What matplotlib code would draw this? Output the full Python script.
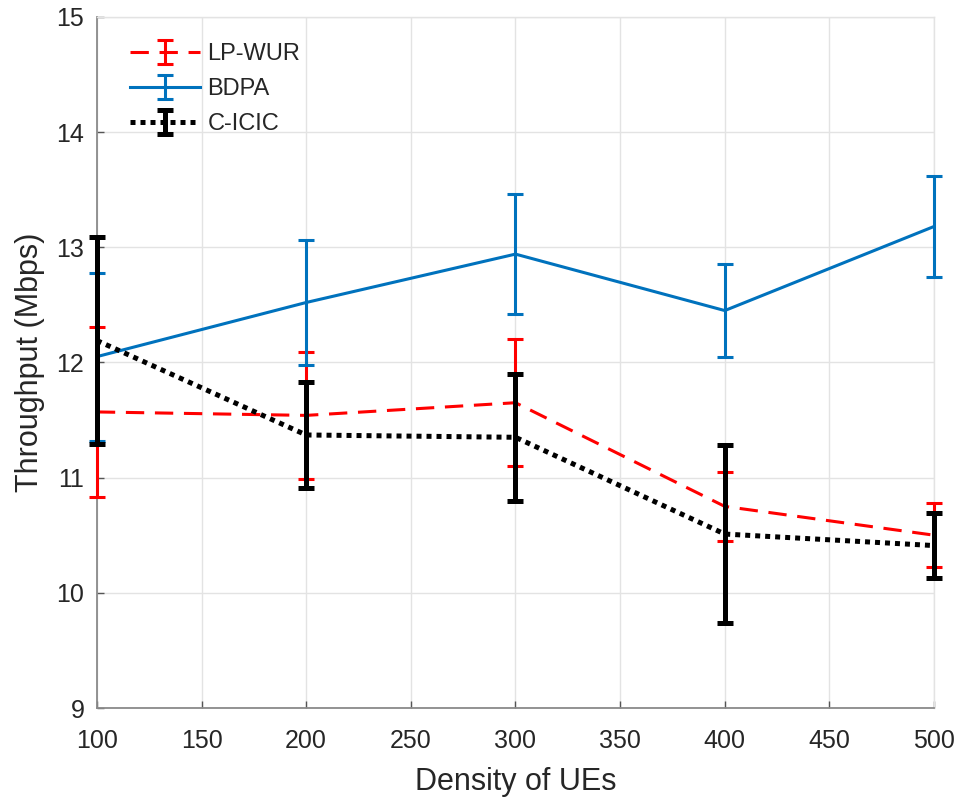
import matplotlib.pyplot as plt

plt.rcParams['font.family'] = ['Liberation Sans', 'DejaVu Sans']

density = [100, 200, 300, 400, 500]

lpwur_mean = [11.57, 11.54, 11.65, 10.75, 10.50]
lpwur_err = [0.74, 0.55, 0.55, 0.30, 0.28]

bdpa_mean = [12.05, 12.52, 12.94, 12.45, 13.18]
bdpa_err = [0.73, 0.54, 0.52, 0.40, 0.44]

cicic_mean = [12.19, 11.37, 11.35, 10.51, 10.41]
cicic_err = [0.90, 0.46, 0.55, 0.77, 0.28]

fig = plt.figure(figsize=(9.59, 8.0), dpi=100)
ax = fig.add_axes([0.101, 0.115, 0.873, 0.864])

series = [
    (lpwur_mean, lpwur_err, '#ff0000', (0, (6, 3.5)), 2.2, 5.5, 'LP-WUR'),
    (bdpa_mean, bdpa_err, '#0072bd', '-', 2.2, 5.5, 'BDPA'),
    (cicic_mean, cicic_err, 'black', (0, (1, 1)), 3.6, 6, 'C-ICIC'),
]
for i, (mean, err, col, ls, lw, cap, name) in enumerate(series):
    cont = ax.errorbar(density, mean, yerr=err, color=col, linestyle=ls,
                       linewidth=lw, elinewidth=lw, capsize=cap, capthick=lw,
                       label=name, zorder=3 + i)
    # let the caps at x=100 and x=500 spill over the axes edge
    for art in cont.get_children():
        art.set_clip_on(False)

ax.set_xlim(100, 500)
ax.set_ylim(9, 15)
ax.set_xticks(range(100, 501, 50))
ax.set_yticks(range(9, 16))
ax.grid(True, color='#e3e3e3', linewidth=1.0)
ax.set_axisbelow(True)

for side in ['left', 'bottom']:
    ax.spines[side].set_color('#8a8a8a')
    ax.spines[side].set_linewidth(1.3)
for side in ['top', 'right']:
    ax.spines[side].set_color('#e3e3e3')
    ax.spines[side].set_linewidth(1.0)

ax.tick_params(direction='in', length=5, width=1, color='#555555',
               labelsize=18, labelcolor='#262626')
ax.tick_params(axis='x', pad=15)
ax.tick_params(axis='y', pad=9)

ax.set_xlabel('Density of UEs', fontsize=22, color='#262626', labelpad=10)
ax.set_ylabel('Throughput (Mbps)', fontsize=22, color='#262626', labelpad=8)

leg = ax.legend(loc='upper left', frameon=False, fontsize=17,
                handlelength=3.0, handletextpad=0.3, labelspacing=0.55,
                borderpad=0, borderaxespad=0,
                bbox_to_anchor=(0.039, 0.962))
for t in leg.get_texts():
    t.set_color('#262626')

fig.savefig('out.png', dpi=100)
